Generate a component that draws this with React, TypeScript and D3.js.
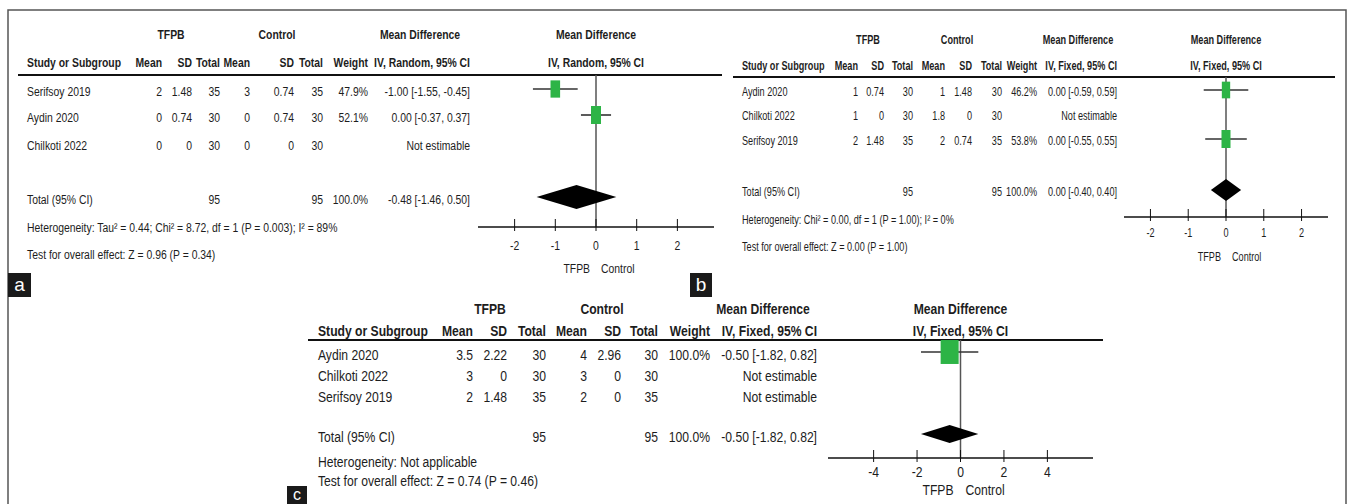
import * as d3 from 'd3'

// ---- data: panel a (random effects) ----
const studiesA = ['Serifsoy 2019', 'Aydin 2020', 'Chilkoti 2022']
const tfpbMeanA = ['2', '0', '0']
const tfpbSdA = ['1.48', '0.74', '0']
const tfpbNA = [35, 30, 30]
const ctrlMeanA = ['3', '0', '0']
const ctrlSdA = ['0.74', '0.74', '0']
const ctrlNA = [35, 30, 30]
const weightA = [47.9, 52.1, null]
const mdA = [-1.0, 0.0, null]
const loA = [-1.55, -0.37, null]
const hiA = [-0.45, 0.37, null]
const pooledA = [-0.48, -1.46, 0.5]
const totalsA = [95, 95]
const hetA = 'Heterogeneity: Tau² = 0.44; Chi² = 8.72, df = 1 (P = 0.003); I² = 89%'
const testA = 'Test for overall effect: Z = 0.96 (P = 0.34)'
const ticksA = [-2, -1, 0, 1, 2]

// ---- data: panel b (fixed) ----
const studiesB = ['Aydin 2020', 'Chilkoti 2022', 'Serifsoy 2019']
const tfpbMeanB = ['1', '1', '2']
const tfpbSdB = ['0.74', '0', '1.48']
const tfpbNB = [30, 30, 35]
const ctrlMeanB = ['1', '1.8', '2']
const ctrlSdB = ['1.48', '0', '0.74']
const ctrlNB = [30, 30, 35]
const weightB = [46.2, null, 53.8]
const mdB = [0.0, null, 0.0]
const loB = [-0.59, null, -0.55]
const hiB = [0.59, null, 0.55]
const pooledB = [0.0, -0.4, 0.4]
const totalsB = [95, 95]
const hetB = 'Heterogeneity: Chi² = 0.00, df = 1 (P = 1.00); I² = 0%'
const testB = 'Test for overall effect: Z = 0.00 (P = 1.00)'
const ticksB = [-2, -1, 0, 1, 2]

// ---- data: panel c (fixed) ----
const studiesC = ['Aydin 2020', 'Chilkoti 2022', 'Serifsoy 2019']
const tfpbMeanC = ['3.5', '3', '2']
const tfpbSdC = ['2.22', '0', '1.48']
const tfpbNC = [30, 30, 35]
const ctrlMeanC = ['4', '3', '2']
const ctrlSdC = ['2.96', '0', '0']
const ctrlNC = [30, 30, 35]
const weightC = [100.0, null, null]
const mdC = [-0.5, null, null]
const loC = [-1.82, null, null]
const hiC = [0.82, null, null]
const pooledC = [-0.5, -1.82, 0.82]
const totalsC = [95, 95]
const hetC = 'Heterogeneity: Not applicable'
const testC = 'Test for overall effect: Z = 0.74 (P = 0.46)'
const ticksC = [-4, -2, 0, 2, 4]

const FONT = "'Liberation Sans', Arial, sans-serif"
const INK = '#1d1d1d'
const GREEN = '#2db446'

// condensed text: plain Liberation Sans squeezed horizontally (the figure uses Arial Narrow)
const Txt = ({ x, y, anchor = 'start', bold = false, fs, sx, children }) => (
  <text
    transform={`translate(${x},${y}) scale(${sx},1)`}
    textAnchor={anchor}
    dy="0.35em"
    fontSize={fs}
    fontWeight={bold ? 'bold' : 'normal'}
    fontFamily={FONT}
    fill={INK}
  >
    {children}
  </text>
)

const fmt = (v) => (v < 0 ? '-' : '') + Math.abs(v).toFixed(2)
const ciText = (m, l, h) => `${fmt(m)} [${fmt(l)}, ${fmt(h)}]`

const Forest = ({ d, L }) => {
  const t = (props) => <Txt fs={L.fs} sx={L.sx} {...props} />
  const x = d3.scaleLinear().domain(L.domain).range(L.range)
  const size = d3.scaleSqrt().domain([0, L.refW]).range([0, L.refPx])
  const [c1, c2, c3, c4, c5, c6, c7, c8] = L.cols
  const x0 = x(0)

  return (
    <g>
      {/* group headers */}
      {t({ x: L.grp[0], y: L.yGroup, anchor: 'middle', bold: true, children: 'TFPB' })}
      {t({ x: L.grp[1], y: L.yGroup, anchor: 'middle', bold: true, children: 'Control' })}
      {t({ x: L.grp[2], y: L.yGroup, anchor: 'middle', bold: true, children: 'Mean Difference' })}
      {t({ x: x0, y: L.yGroup, anchor: 'middle', bold: true, children: 'Mean Difference' })}

      {/* column headers */}
      {t({ x: L.xStudy, y: L.yHead, bold: true, children: 'Study or Subgroup' })}
      {['Mean', 'SD', 'Total', 'Mean', 'SD', 'Total', 'Weight', d.method].map((h, i) =>
        <g key={'h' + i}>{t({ x: L.cols[i], y: L.yHead, anchor: 'end', bold: true, children: h })}</g>,
      )}
      {t({ x: x0, y: L.yHead, anchor: 'middle', bold: true, children: d.method })}

      <line x1={L.line[0]} x2={L.line[1]} y1={L.yLine} y2={L.yLine} stroke="#111" strokeWidth={2} />

      {/* zero line */}
      <line x1={x0} x2={x0} y1={L.yLine} y2={L.axisY} stroke="#555" strokeWidth={1.5} />

      {/* study rows */}
      {d.studies.map((s, i) => {
        const y = L.rows[i]
        const est = d.md[i] != null
        const w = est ? size(d.weight[i]) : 0
        const h = w * L.ratio
        return (
          <g key={s}>
            {t({ x: L.xStudy, y, children: s })}
            {t({ x: c1, y, anchor: 'end', children: d.tMean[i] })}
            {t({ x: c2, y, anchor: 'end', children: d.tSd[i] })}
            {t({ x: c3, y, anchor: 'end', children: d.tN[i] })}
            {t({ x: c4, y, anchor: 'end', children: d.cMean[i] })}
            {t({ x: c5, y, anchor: 'end', children: d.cSd[i] })}
            {t({ x: c6, y, anchor: 'end', children: d.cN[i] })}
            {est && t({ x: c7, y, anchor: 'end', children: d.weight[i].toFixed(1) + '%' })}
            {t({ x: c8, y, anchor: 'end', children: est ? ciText(d.md[i], d.lo[i], d.hi[i]) : 'Not estimable' })}
            {est && (
              <g>
                <line x1={x(d.lo[i])} x2={x(d.hi[i])} y1={y - L.mOff} y2={y - L.mOff} stroke="#333" strokeWidth={1.6} />
                <rect x={x(d.md[i]) - w / 2} y={y - L.mOff - h / 2} width={w} height={h} fill={GREEN} />
              </g>
            )}
          </g>
        )
      })}

      {/* total row */}
      {t({ x: L.xStudy, y: L.yTotal, children: 'Total (95% CI)' })}
      {t({ x: c3, y: L.yTotal, anchor: 'end', children: d.totals[0] })}
      {t({ x: c6, y: L.yTotal, anchor: 'end', children: d.totals[1] })}
      {t({ x: c7, y: L.yTotal, anchor: 'end', children: '100.0%' })}
      {t({ x: c8, y: L.yTotal, anchor: 'end', children: ciText(d.pooled[0], d.pooled[1], d.pooled[2]) })}
      <path
        d={`M${x(d.pooled[1])},${L.yTotal - L.mOff} L${x(d.pooled[0])},${L.yTotal - L.mOff - L.dia} L${x(d.pooled[2])},${L.yTotal - L.mOff} L${x(d.pooled[0])},${L.yTotal - L.mOff + L.dia} Z`}
        fill="#000"
      />
      {t({ x: L.xStudy, y: L.yHet, children: d.het })}
      {t({ x: L.xStudy, y: L.yTest, children: d.test })}

      {/* axis */}
      <line x1={L.range[0]} x2={L.range[1]} y1={L.axisY} y2={L.axisY} stroke="#111" strokeWidth={1.6} />
      {d.ticks.map((v) => (
        <g key={'t' + v}>
          <line x1={x(v)} x2={x(v)} y1={L.axisY - 8} y2={L.axisY + 4} stroke="#111" strokeWidth={1} />
          {t({ x: x(v), y: L.tickY, anchor: 'middle', children: v < 0 ? '-' + Math.abs(v) : String(v) })}
        </g>
      ))}
      {t({ x: x0 - L.sideGap[0], y: L.sideY, anchor: 'end', children: 'TFPB' })}
      {t({ x: x0 + L.sideGap[1], y: L.sideY, children: 'Control' })}

      {/* panel letter */}
      <rect x={L.box[0]} y={L.box[1]} width={L.box[2]} height={L.box[3]} fill="#1a1a1a" />
      <text
        x={L.box[0] + L.box[2] / 2}
        y={L.box[1] + L.box[3] / 2}
        dy="0.33em"
        textAnchor="middle"
        fontSize={L.boxFs}
        fontFamily={FONT}
        fill="#fff"
      >
        {L.letter}
      </text>
    </g>
  )
}

const dataA = {
  studies: studiesA, tMean: tfpbMeanA, tSd: tfpbSdA, tN: tfpbNA, cMean: ctrlMeanA, cSd: ctrlSdA, cN: ctrlNA,
  weight: weightA, md: mdA, lo: loA, hi: hiA, pooled: pooledA, totals: totalsA, het: hetA, test: testA,
  ticks: ticksA, method: 'IV, Random, 95% CI',
}
const dataB = {
  studies: studiesB, tMean: tfpbMeanB, tSd: tfpbSdB, tN: tfpbNB, cMean: ctrlMeanB, cSd: ctrlSdB, cN: ctrlNB,
  weight: weightB, md: mdB, lo: loB, hi: hiB, pooled: pooledB, totals: totalsB, het: hetB, test: testB,
  ticks: ticksB, method: 'IV, Fixed, 95% CI',
}
const dataC = {
  studies: studiesC, tMean: tfpbMeanC, tSd: tfpbSdC, tN: tfpbNC, cMean: ctrlMeanC, cSd: ctrlSdC, cN: ctrlNC,
  weight: weightC, md: mdC, lo: loC, hi: hiC, pooled: pooledC, totals: totalsC, het: hetC, test: testC,
  ticks: ticksC, method: 'IV, Fixed, 95% CI',
}

// layouts (pixel positions)
const layoutA = {
  fs: 13.5, sx: 0.77, yGroup: 34, yHead: 62, yLine: 75, rows: [91, 117, 145], yTotal: 199, yHet: 227, yTest: 254,
  xStudy: 27, cols: [162, 192, 220, 250, 294, 323, 368, 470], grp: [171, 277, 420], line: [18, 722],
  domain: [-2.9, 2.9], range: [478, 714], axisY: 227, tickY: 245, sideY: 268, sideGap: [6, 5],
  refW: 52.1, refPx: 10, ratio: 1.8, mOff: 2, dia: 12, box: [8, 273, 23, 24], boxFs: 19, letter: 'a',
}
const layoutB = {
  fs: 12.5, sx: 0.73, yGroup: 40, yHead: 66, yLine: 77, rows: [92, 116, 141], yTotal: 192, yHet: 220, yTest: 247,
  xStudy: 742, cols: [858, 884, 913, 945, 972, 1002, 1037, 1117], grp: [868, 957, 1078], line: [733, 1335],
  domain: [-2.7, 2.7], range: [1124, 1328], axisY: 217, tickY: 233, sideY: 257, sideGap: [5, 6],
  refW: 53.8, refPx: 9, ratio: 2, mOff: 2, dia: 11, box: [690, 273, 22, 24], boxFs: 19, letter: 'b',
}
const layoutC = {
  fs: 15, sx: 0.81, yGroup: 309, yHead: 331, yLine: 340, rows: [355, 376, 397], yTotal: 437, yHet: 462, yTest: 481,
  xStudy: 318, cols: [473, 507, 546, 587, 621, 658, 710, 817], grp: [490, 602, 763], line: [308, 1103],
  domain: [-6.1, 6.1], range: [828, 1093], axisY: 458, tickY: 472, sideY: 490, sideGap: [7, 5],
  refW: 100, refPx: 18, ratio: 1.33, mOff: 3, dia: 9, box: [287, 486, 20, 18], boxFs: 16, letter: 'c',
}

export default function App() {
  return (
    <div style={{ position: 'absolute', left: 0, top: 0 }}>
      <svg width={1348} height={504} style={{ display: 'block', background: '#fff' }}>
        {/* outer frame */}
        <path d="M8,504 L8,10 L1346,10 L1346,504" fill="none" stroke="#555" strokeWidth={1.5} />
        <Forest d={dataA} L={layoutA} />
        <Forest d={dataB} L={layoutB} />
        <Forest d={dataC} L={layoutC} />
      </svg>
    </div>
  )
}
